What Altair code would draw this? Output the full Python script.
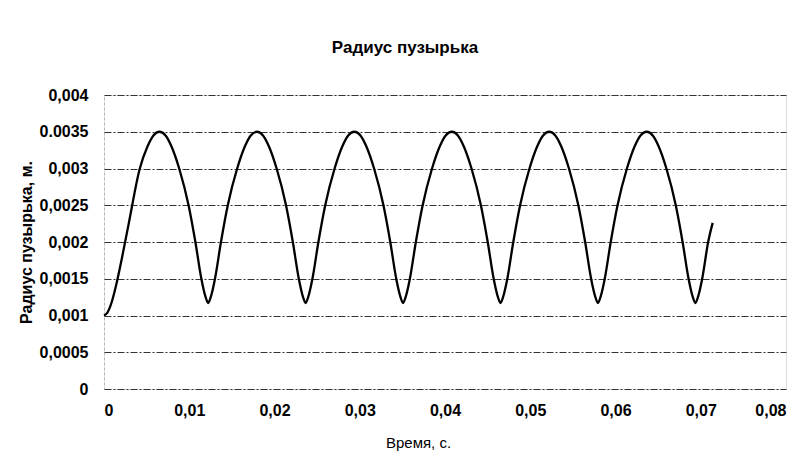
import altair as alt
import pandas as pd

# (time in s, radius in m)
t_rise0 = [0.0, 0.0004, 0.0009, 0.0014, 0.0021, 0.0029, 0.0042, 0.0051, 0.0058, 0.0065]
r_rise0 = [0.001, 0.00104, 0.00118, 0.0014, 0.00178, 0.00225, 0.003, 0.0033, 0.00345, 0.0035]

r_cycle = [0.00345, 0.0033, 0.003, 0.0025, 0.002, 0.0015, 0.00125, 0.00117,
           0.00125, 0.0015, 0.002, 0.0025, 0.003, 0.0033, 0.00345, 0.0035]

t_cycle1 = [0.00722, 0.00792, 0.00882, 0.00992, 0.01072, 0.01142, 0.01192, 0.01222,
            0.01252, 0.01302, 0.01372, 0.01452, 0.01562, 0.01652, 0.01722, 0.01794]
t_cycle2 = [0.01865, 0.01935, 0.02025, 0.02135, 0.02215, 0.02285, 0.02335, 0.02365,
            0.02395, 0.02445, 0.02515, 0.02595, 0.02705, 0.02795, 0.02865, 0.02937]
t_cycle3 = [0.03008, 0.03078, 0.03168, 0.03278, 0.03358, 0.03428, 0.03478, 0.03508,
            0.03538, 0.03588, 0.03658, 0.03738, 0.03848, 0.03938, 0.04008, 0.0408]
t_cycle4 = [0.04151, 0.04221, 0.04311, 0.04421, 0.04501, 0.04571, 0.04621, 0.04651,
            0.04681, 0.04731, 0.04801, 0.04881, 0.04991, 0.05081, 0.05151, 0.05223]
t_cycle5 = [0.05294, 0.05364, 0.05454, 0.05564, 0.05644, 0.05714, 0.05764, 0.05794,
            0.05824, 0.05874, 0.05944, 0.06024, 0.06134, 0.06224, 0.06294, 0.06366]

t_tail = [0.06437, 0.06507, 0.06597, 0.06707, 0.06787, 0.06857, 0.06907, 0.06937,
          0.06967, 0.07017, 0.07087, 0.0714]
r_tail = [0.00345, 0.0033, 0.003, 0.0025, 0.002, 0.0015, 0.00125, 0.00117,
          0.00125, 0.0015, 0.002, 0.00226]

x_ticks = [0, 0.01, 0.02, 0.03, 0.04, 0.05, 0.06, 0.07, 0.08]
y_ticks = [0, 0.0005, 0.001, 0.0015, 0.002, 0.0025, 0.003, 0.0035, 0.004]

t_all = list(t_rise0)
r_all = list(r_rise0)
for tc in [t_cycle1, t_cycle2, t_cycle3, t_cycle4, t_cycle5]:
    t_all += tc
    r_all += r_cycle
t_all += t_tail
r_all += r_tail

df = pd.DataFrame({"t": t_all, "r": r_all})

FONT = "Liberation Sans"

y_label_expr = ("datum.value == 0.0035 ? '0.0035' : "
                "replace(format(datum.value, '~g'), '.', ',')")
x_label_expr = "replace(format(datum.value, '~g'), '.', ',')"

line = alt.Chart(df).mark_line(
    color="black", strokeWidth=2.3, interpolate="monotone"
).encode(
    x=alt.X("t:Q",
            scale=alt.Scale(domain=[0, 0.08], nice=False, zero=True),
            axis=alt.Axis(values=x_ticks, labelExpr=x_label_expr,
                          title="Время, с.", grid=False, domain=False, ticks=False,
                          labelFont=FONT, labelFontSize=16, labelFontWeight="bold",
                          labelColor="black", labelPadding=13,
                          titleFont=FONT, titleFontSize=15, titleFontWeight="normal",
                          titleColor="black", titlePadding=17,
                          titleX=314, titleAlign="center")),
    y=alt.Y("r:Q",
            scale=alt.Scale(domain=[0, 0.004], nice=False),
            axis=alt.Axis(values=y_ticks, labelExpr=y_label_expr,
                          title="Радиус пузырька, м.",
                          grid=True, gridColor="#333", gridWidth=1,
                          gridDash=[7, 2, 2, 2],
                          domain=True, domainColor="#888", domainDash=[1, 4],
                          ticks=False,
                          labelFont=FONT, labelFontSize=16, labelFontWeight="bold",
                          labelColor="black", labelPadding=16,
                          titleFont=FONT, titleFontSize=16, titleFontWeight="bold",
                          titleColor="black", titlePadding=5)),
)

chart = line.properties(
    width=682,
    height=294,
    title=alt.TitleParams("Радиус пузырька", font=FONT, fontSize=17,
                          fontWeight="bold", color="black", dx=-40, offset=30),
    padding={"left": 10, "top": 31, "right": 4, "bottom": 2},
).configure_view(stroke=None).configure(background="white")

chart.save("out.html", embed_options={"renderer": "svg", "actions": False})
